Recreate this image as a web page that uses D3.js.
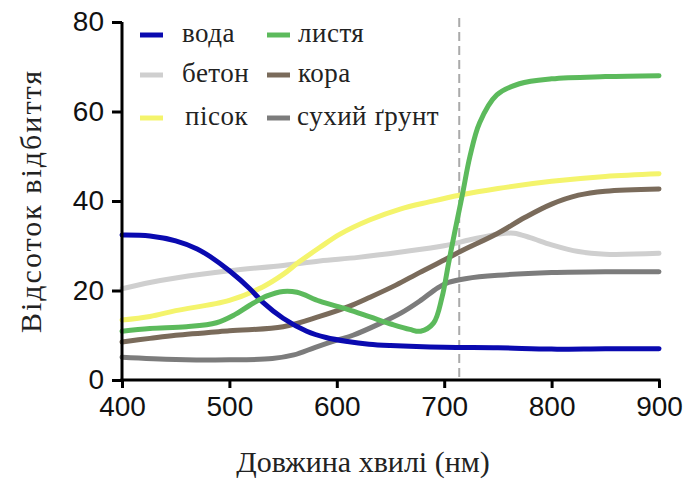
<!DOCTYPE html>
<html><head><meta charset="utf-8">
<script src="https://cdn.jsdelivr.net/npm/d3@7"></script>
<style>body{margin:0;background:#fff}</style>
</head><body>
<svg id="c" width="691" height="480"></svg>
<script>
const xTicks = [400,500,600,700,800,900];
const yTicks = [0,20,40,60,80];
const names = ["вода","бетон","пісок","листя","кора","сухий ґрунт"];
const colors = ["#0a0ab0","#cfcfcf","#f4f46c","#5cba5c","#7a6b5b","#7c7c7c"];
const water = [[400,32.4],[426,32.2],[450,31.1],[470,29.3],[482,27.6],[500,24.4],[519,20.4],[531,17.4],[550,13.8],[572,10.9],[590,9.5],[610,8.6],[630,8.0],[650,7.7],[700,7.3],[750,7.2],[800,6.9],[850,7.0],[900,7.0]];
const concrete = [[400,20.4],[426,21.8],[450,22.8],[500,24.4],[550,25.6],[584,26.6],[620,27.4],[660,28.6],[700,30],[725,31.4],[750,32.6],[765,32.8],[780,31.8],[800,30.2],[825,28.7],[850,28.1],[900,28.3]];
const sand = [[400,13.4],[426,14.2],[450,15.5],[500,17.8],[531,20.8],[550,23.6],[565,26.4],[584,29.6],[603,32.6],[631,35.8],[659,38.2],[686,39.8],[714,41.3],[750,42.8],[800,44.4],[850,45.5],[900,46.1]];
const leaves = [[400,10.9],[426,11.5],[460,11.9],[488,12.8],[505,14.6],[519,16.7],[535,18.8],[550,19.8],[563,19.6],[584,17.6],[610,15.8],[631,14.1],[652,12.4],[668,11.3],[678,10.9],[690,12.7],[698,18.5],[704,26],[710,33.3],[717,41.5],[724,50],[733,57.5],[749,63.7],[770,66.2],[800,67.3],[850,67.8],[900,68]];
const bark = [[400,8.5],[426,9.3],[450,10],[500,11],[550,11.9],[584,14.2],[612,16.5],[631,18.5],[655,21.2],[677,24],[700,26.8],[714,28.6],[750,32.8],[775,36.3],[800,39.3],[825,41.3],[850,42.2],[900,42.7]];
const drysoil = [[400,5.1],[450,4.6],[500,4.5],[540,4.8],[560,5.6],[580,7.3],[600,8.9],[615,10],[640,12.6],[660,15],[677,17.6],[694,20.6],[704,21.8],[721,22.7],[750,23.4],[800,24.0],[850,24.2],[900,24.2]];
const series = [water, concrete, sand, leaves, bark, drysoil];
const drawOrder = [1,2,4,5,0,3];
const marker = 714;

const svg = d3.select("#c");
const x = d3.scaleLinear().domain([400,900]).range([122,659]);
const y = d3.scaleLinear().domain([0,80]).range([380,22]);

svg.append("line").attr("x1",x(marker)).attr("x2",x(marker)).attr("y1",y(80)-4).attr("y2",y(0))
  .attr("stroke","#aaaaaa").attr("stroke-width",2).attr("stroke-dasharray","9,5");

const line = d3.line().x(d=>x(d[0])).y(d=>y(d[1])).curve(d3.curveCatmullRom.alpha(0.5));
drawOrder.forEach(i=>{
  svg.append("path").attr("d",line(series[i])).attr("fill","none")
    .attr("stroke",colors[i]).attr("stroke-width",5).attr("stroke-linecap","round").attr("stroke-linejoin","round");
});

const xa = svg.append("g").attr("transform",`translate(0,${y(0)})`)
  .call(d3.axisBottom(x).tickValues(xTicks).tickSize(8).tickSizeOuter(0).tickPadding(8));
const ya = svg.append("g").attr("transform",`translate(${x(400)},0)`)
  .call(d3.axisLeft(y).tickValues(yTicks).tickSize(10).tickSizeOuter(0).tickPadding(8));
[xa,ya].forEach(a=>{
  a.select(".domain").attr("stroke","#000").attr("stroke-width",3);
  a.selectAll(".tick line").attr("stroke","#000").attr("stroke-width",3);
  a.selectAll("text").attr("font-family","Liberation Sans, Arial, sans-serif").attr("font-size",28).attr("fill","#111");
});
xa.select(".domain").attr("d",`M${x(400)-1.5},0H${x(900)+1.5}`);
ya.select(".domain").attr("d",`M0,${y(80)}V${y(0)+1.5}`);

svg.append("text").attr("x",363).attr("y",472).attr("text-anchor","middle")
  .attr("font-family","Liberation Serif, Times New Roman, serif").attr("font-size",30).attr("fill","#222")
  .text("Довжина хвилі (нм)");
svg.append("text").attr("transform","translate(41,201) rotate(-90)").attr("text-anchor","middle")
  .attr("font-family","Liberation Serif, Times New Roman, serif").attr("font-size",30).attr("letter-spacing",2).attr("fill","#222")
  .text("Відсоток відбиття");

const legPos = [[140,35],[140,75],[140,118],[267,35],[267,75],[267,118]];
const legText = [182,182,185,298,298,297];
names.forEach((n,i)=>{
  const [lx,ly] = legPos[i];
  svg.append("line").attr("x1",lx).attr("x2",lx+23).attr("y1",ly).attr("y2",ly)
    .attr("stroke",colors[i]).attr("stroke-width",5);
  svg.append("text").attr("x",legText[i]).attr("y",ly+7).attr("font-family","Liberation Serif, Times New Roman, serif")
    .attr("font-size",27).attr("letter-spacing",0.5).attr("fill","#222").text(n);
});
</script>
</body></html>
